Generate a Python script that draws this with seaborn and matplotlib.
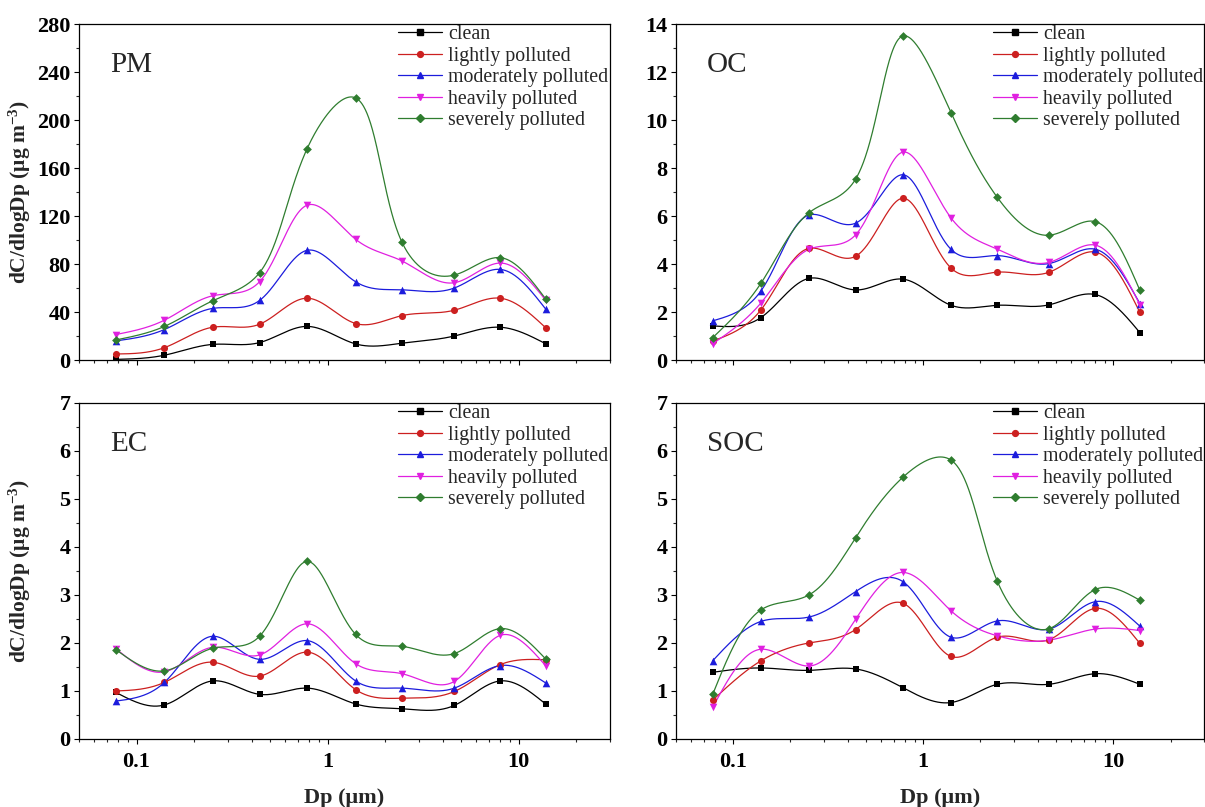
import numpy as np
import pandas as pd
import matplotlib
matplotlib.use("Agg")
import matplotlib.pyplot as plt
import seaborn as sns
from matplotlib.lines import Line2D
from matplotlib.ticker import FixedLocator, FixedFormatter, LogLocator, NullFormatter, MultipleLocator

# ---------------- data ----------------
dp = [0.078, 0.14, 0.25, 0.44, 0.78, 1.4, 2.45, 4.6, 8.0, 13.8]
levels = ["clean", "lightly polluted", "moderately polluted", "heavily polluted", "severely polluted"]

pm_clean = [0.5, 4, 13, 14.5, 28, 13.4, 14, 20, 27.3, 13.6]
pm_light = [5, 10.3, 27.3, 29.8, 51.5, 30.4, 37, 41.5, 51.5, 27]
pm_mod = [15.9, 25.4, 43, 49.6, 91.4, 65.2, 58.5, 60, 75.5, 42.6]
pm_heavy = [21.2, 33.2, 53.5, 65.2, 129, 100.6, 82.5, 64.4, 80.8, 50]
pm_severe = [16.7, 28, 49.3, 72.7, 176, 218.4, 98, 70.8, 85.3, 51]

oc_clean = [1.42, 1.77, 3.4, 2.92, 3.37, 2.28, 2.28, 2.3, 2.73, 1.14]
oc_light = [0.79, 2.09, 4.65, 4.32, 6.74, 3.83, 3.66, 3.66, 4.5, 1.98]
oc_mod = [1.63, 2.88, 6.04, 5.7, 7.72, 4.61, 4.35, 4.02, 4.62, 2.35]
oc_heavy = [0.68, 2.38, 4.61, 5.21, 8.66, 5.92, 4.62, 4.07, 4.79, 2.3]
oc_severe = [0.93, 3.2, 6.13, 7.53, 13.5, 10.3, 6.78, 5.2, 5.77, 2.9]

ec_clean = [0.97, 0.71, 1.21, 0.93, 1.06, 0.73, 0.63, 0.70, 1.21, 0.73]
ec_light = [1.0, 1.18, 1.6, 1.31, 1.81, 1.03, 0.85, 0.99, 1.55, 1.65]
ec_mod = [0.79, 1.18, 2.14, 1.66, 2.05, 1.21, 1.06, 1.06, 1.53, 1.17]
ec_heavy = [1.88, 1.40, 1.91, 1.75, 2.4, 1.57, 1.36, 1.2, 2.16, 1.53]
ec_severe = [1.86, 1.42, 1.89, 2.14, 3.7, 2.18, 1.93, 1.78, 2.3, 1.67]

soc_clean = [1.39, 1.48, 1.43, 1.46, 1.07, 0.76, 1.14, 1.14, 1.36, 1.14]
soc_light = [0.81, 1.63, 2.0, 2.28, 2.83, 1.72, 2.12, 2.07, 2.72, 1.99]
soc_mod = [1.63, 2.45, 2.54, 3.07, 3.28, 2.12, 2.46, 2.29, 2.86, 2.35]
soc_heavy = [0.66, 1.87, 1.52, 2.49, 3.47, 2.67, 2.15, 2.06, 2.29, 2.26]
soc_severe = [0.93, 2.69, 3.0, 4.19, 5.45, 5.81, 3.29, 2.3, 3.11, 2.89]

panels = [
    ("PM", [pm_clean, pm_light, pm_mod, pm_heavy, pm_severe], 280, 40),
    ("OC", [oc_clean, oc_light, oc_mod, oc_heavy, oc_severe], 14, 2),
    ("EC", [ec_clean, ec_light, ec_mod, ec_heavy, ec_severe], 7, 1),
    ("SOC", [soc_clean, soc_light, soc_mod, soc_heavy, soc_severe], 7, 1),
]

colors = ["#000000", "#cc2020", "#1c1cdc", "#e020e0", "#2f7d2f"]
markers = ["s", "o", "^", "v", "D"]
msizes = [22, 26, 30, 30, 20]

# ---------------- style ----------------
sns.set_theme(style="ticks")
plt.rcParams["font.family"] = ["Liberation Serif", "DejaVu Serif"]
plt.rcParams["mathtext.fontset"] = "custom"
plt.rcParams["mathtext.rm"] = "Liberation Serif"
plt.rcParams["mathtext.bf"] = "Liberation Serif:bold"
plt.rcParams["mathtext.default"] = "bf"


def natural_spline(x, y, xs):
    x = np.asarray(x, float)
    y = np.asarray(y, float)
    n = len(x)
    h = np.diff(x)
    A = np.zeros((n, n))
    b = np.zeros(n)
    A[0, 0] = 1
    A[-1, -1] = 1
    for i in range(1, n - 1):
        A[i, i - 1] = h[i - 1]
        A[i, i] = 2 * (h[i - 1] + h[i])
        A[i, i + 1] = h[i]
        b[i] = 6 * ((y[i + 1] - y[i]) / h[i] - (y[i] - y[i - 1]) / h[i - 1])
    M = np.linalg.solve(A, b)
    idx = np.clip(np.searchsorted(x, xs) - 1, 0, n - 2)
    x0, x1 = x[idx], x[idx + 1]
    hh = x1 - x0
    t0 = x1 - xs
    t1 = xs - x0
    return (M[idx] * t0 ** 3 / (6 * hh) + M[idx + 1] * t1 ** 3 / (6 * hh)
            + (y[idx] / hh - M[idx] * hh / 6) * t0
            + (y[idx + 1] / hh - M[idx + 1] * hh / 6) * t1)


def smooth_curve(xv, yv, ymax, wpx, hpx, xlim, xstretch=2.0):
    # parametric spline (chord-length parameter) in a stretched screen space
    l0, l1 = np.log10(xlim[0]), np.log10(xlim[1])
    u = (np.log10(xv) - l0) / (l1 - l0) * wpx * xstretch
    v = np.asarray(yv, float) / ymax * hpx
    d = np.sqrt(np.diff(u) ** 2 + np.diff(v) ** 2)
    t = np.concatenate([[0], np.cumsum(d)])
    ts = np.linspace(0, t[-1], 700)
    us = natural_spline(t, u, ts)
    vs = natural_spline(t, v, ts)
    xs = 10 ** (us / (wpx * xstretch) * (l1 - l0) + l0)
    ys = vs / hpx * ymax
    return xs, ys


fig = plt.figure(figsize=(12.05, 8.07), dpi=100)
W, H = 1205, 807
boxes = [
    (79, 24, 610, 360),
    (676, 24, 1204, 360),
    (79, 403, 610, 739),
    (676, 403, 1204, 739),
]
xlim = (0.05, 30)

for k, ((name, series, ymax, ystep), (l, t, r, btm)) in enumerate(zip(panels, boxes)):
    ax = fig.add_axes([l / W, 1 - btm / H, (r - l) / W, (btm - t) / H])
    ax.set_xscale("log")

    raw = pd.DataFrame({
        "Dp": np.tile(dp, len(levels)),
        "val": np.concatenate([np.asarray(s, float) for s in series]),
        "level": np.repeat(levels, len(dp)),
    })
    sx, sy, sl = [], [], []
    for lev, s in zip(levels, series):
        xs, ys = smooth_curve(dp, s, ymax, r - l, btm - t, xlim)
        sx.append(xs)
        sy.append(ys)
        sl.append(np.repeat(lev, len(xs)))
    smooth = pd.DataFrame({"Dp": np.concatenate(sx), "val": np.concatenate(sy),
                           "level": np.concatenate(sl)})

    sns.lineplot(data=smooth, x="Dp", y="val", hue="level", hue_order=levels,
                 palette=colors, estimator=None, sort=False, linewidth=0.9,
                 legend=False, ax=ax)
    for lev, c, m, s in zip(levels, colors, markers, msizes):
        sub = raw[raw["level"] == lev]
        sns.scatterplot(data=sub, x="Dp", y="val", color=c, marker=m, s=s,
                        linewidth=0, legend=False, ax=ax, zorder=3)

    ax.set_xlim(*xlim)
    ax.set_ylim(0, ymax)
    ax.xaxis.set_major_locator(FixedLocator([0.1, 1, 10]))
    ax.xaxis.set_major_formatter(FixedFormatter(["0.1", "1", "10"]))
    ax.xaxis.set_minor_locator(LogLocator(base=10, subs=np.arange(2, 10)))
    ax.xaxis.set_minor_formatter(NullFormatter())
    ax.yaxis.set_major_locator(MultipleLocator(ystep))
    ax.yaxis.set_minor_locator(MultipleLocator(ystep / 2))

    ax.tick_params(axis="both", which="major", direction="out", length=3.6, width=0.8,
                   labelsize=16, colors="black")
    ax.tick_params(axis="x", which="major", pad=5.5)
    ax.tick_params(axis="y", which="major", pad=2.5)
    ax.tick_params(axis="both", which="minor", direction="out", length=2.2, width=0.8)
    for lab in ax.get_xticklabels() + ax.get_yticklabels():
        lab.set_fontweight("bold")
    for sp in ax.spines.values():
        sp.set_visible(True)
        sp.set_linewidth(0.9)
        sp.set_color("black")

    if k < 2:
        ax.tick_params(labelbottom=False)
        ax.set_xlabel("")
    else:
        ax.set_xlabel("Dp (μm)", fontsize=16, fontweight="bold", labelpad=12)
    if k % 2 == 0:
        ax.set_ylabel("dC/dlogDp (μg m$^{-3}$)", fontsize=15.5, fontweight="bold")
        ax.yaxis.set_label_coords(-0.086, 0.5)
    else:
        ax.set_ylabel("")

    ax.text(0.058, 0.857, name, transform=ax.transAxes, fontsize=21,
            va="baseline", ha="left")

    handles = [Line2D([0], [0], color=c, marker=m, markersize=4.2, lw=0.9)
               for c, m in zip(colors, markers)]
    ax.legend(handles, levels, loc="upper left", bbox_to_anchor=(0.601, 0.997),
              frameon=False, fontsize=14.3, handlelength=2.2, handletextpad=0.3,
              labelspacing=0.13, borderpad=0, borderaxespad=0)

fig.savefig("out.png", dpi=100)
